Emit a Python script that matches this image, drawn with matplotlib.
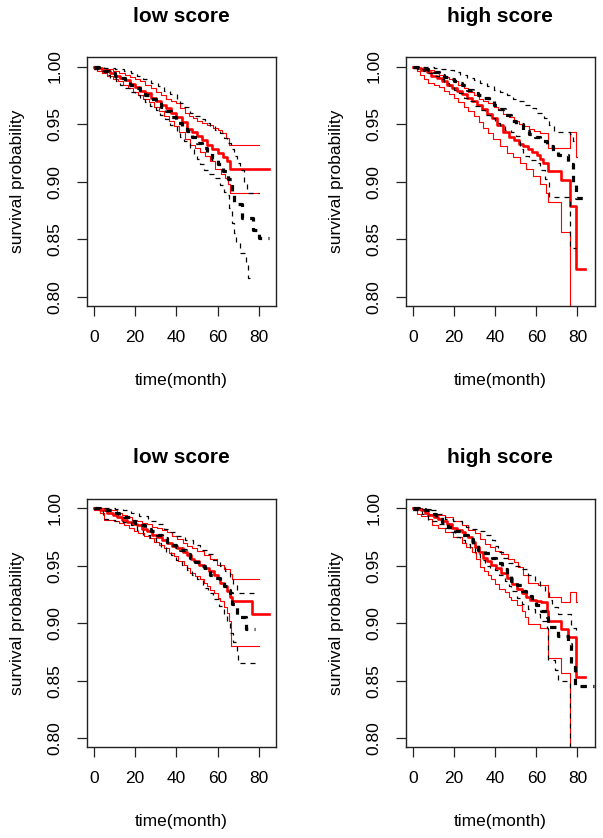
import matplotlib
matplotlib.use("Agg")
import matplotlib.pyplot as plt

plt.rcParams['font.family'] = ['Liberation Sans', 'DejaVu Sans']

titles = ["low score", "high score", "low score", "high score"]
xticks = [0, 20, 40, 60, 80]
yticks = [0.80, 0.85, 0.90, 0.95, 1.00]
ytick_labels = ["0.80", "0.85", "0.90", "0.95", "1.00"]
xlabel = "time(month)"
ylabel = "survival probability"

# ---- Panel A (top-left, low score) ----
A_red_t = [0, 2, 4, 6, 8, 10, 12.5, 15, 17.5, 20, 22.5, 25, 27.5, 30, 32.5, 35, 37.5, 40, 42.5, 45, 47.5, 50, 52.5, 55, 57.5, 60, 62.5, 64.5, 66.2, 85]
A_red_s = [1.0, 0.999, 0.997, 0.996, 0.994, 0.992, 0.990, 0.988, 0.985, 0.982, 0.979, 0.977, 0.973, 0.970, 0.967, 0.964, 0.960, 0.956, 0.952, 0.946, 0.943, 0.940, 0.936, 0.932, 0.928, 0.925, 0.921, 0.918, 0.911, 0.911]
A_up_t = [0, 3, 6, 9, 12, 15, 17.5, 20, 22.5, 25, 27.5, 30, 32.5, 35, 37.5, 40, 42, 44, 46, 48, 50, 52.5, 55, 58, 60, 62, 64, 65.5, 80]
A_up_s = [1.0, 0.999, 0.998, 0.996, 0.994, 0.993, 0.991, 0.989, 0.987, 0.984, 0.981, 0.978, 0.975, 0.972, 0.970, 0.968, 0.964, 0.960, 0.957, 0.955, 0.953, 0.951, 0.949, 0.947, 0.945, 0.942, 0.938, 0.932, 0.932]
A_lo_t = [0, 1.5, 4, 6.5, 9, 11.5, 14, 16.5, 19, 21.5, 24, 26.5, 29, 31.5, 34, 36.5, 39, 41.5, 44, 46.5, 49, 51.5, 54, 56.5, 59, 61.5, 63.5, 65, 66.2, 80]
A_lo_s = [0.998, 0.996, 0.994, 0.992, 0.989, 0.987, 0.984, 0.981, 0.978, 0.975, 0.972, 0.969, 0.965, 0.961, 0.957, 0.953, 0.948, 0.943, 0.937, 0.932, 0.929, 0.926, 0.922, 0.918, 0.911, 0.907, 0.903, 0.898, 0.890, 0.890]
A_blk_t = [0, 2.5, 5, 7.5, 10, 12.5, 15, 17.5, 20, 22.5, 25, 27.5, 30, 32.5, 35, 37.5, 40, 42.5, 45, 47.5, 50, 52.5, 55, 57.5, 60, 62.5, 65, 67, 68, 72, 77, 80, 85]
A_blk_s = [1.0, 0.998, 0.996, 0.994, 0.992, 0.990, 0.987, 0.984, 0.981, 0.978, 0.975, 0.972, 0.969, 0.965, 0.961, 0.956, 0.951, 0.948, 0.944, 0.939, 0.934, 0.929, 0.925, 0.920, 0.915, 0.909, 0.902, 0.891, 0.881, 0.868, 0.858, 0.851, 0.851]
A_bup_t = [0, 5, 10, 14.5, 18, 21, 24, 27.5, 31, 34, 37, 40.3, 42, 43.6, 46.8, 49, 51.7, 54, 56.5, 59, 61.4, 63, 64.6, 66.5, 67.9, 69.5, 71.1, 72.7, 74.3, 80]
A_bup_s = [1.0, 0.999, 0.998, 0.996, 0.994, 0.992, 0.989, 0.986, 0.983, 0.979, 0.976, 0.972, 0.968, 0.965, 0.960, 0.957, 0.954, 0.951, 0.948, 0.945, 0.942, 0.938, 0.934, 0.928, 0.922, 0.916, 0.910, 0.900, 0.890, 0.890]
A_blo_t = [0, 3.1, 5.5, 7.9, 10.5, 12.8, 15, 17.7, 20, 22.5, 25, 27.4, 30, 32.2, 34.5, 37.1, 40.3, 42, 43.6, 46.8, 48.5, 50, 51.5, 53.3, 56, 58.1, 61.4, 63, 64, 65.5, 67, 68, 69, 71, 74, 75, 78]
A_blo_s = [0.998, 0.996, 0.993, 0.990, 0.987, 0.984, 0.981, 0.978, 0.975, 0.972, 0.969, 0.966, 0.962, 0.958, 0.954, 0.949, 0.943, 0.939, 0.935, 0.929, 0.924, 0.920, 0.915, 0.910, 0.907, 0.903, 0.897, 0.891, 0.888, 0.877, 0.864, 0.855, 0.847, 0.838, 0.830, 0.816, 0.816]

# ---- Panel B (top-right, high score) ----
B_red_t = [0, 2, 4, 6.8, 9, 11.7, 14, 16.5, 19, 21.4, 24, 26.2, 28.5, 31, 33.5, 36, 38.5, 41, 43.9, 46.5, 49, 51.5, 53.6, 56, 58, 60.1, 61.7, 63.3, 65.8, 72.2, 76.3, 79.5, 83.6]
B_red_s = [1.0, 0.999, 0.997, 0.995, 0.992, 0.990, 0.987, 0.984, 0.981, 0.979, 0.976, 0.973, 0.970, 0.967, 0.963, 0.959, 0.955, 0.949, 0.943, 0.939, 0.936, 0.933, 0.931, 0.928, 0.926, 0.923, 0.920, 0.916, 0.909, 0.901, 0.879, 0.824, 0.824]
B_up_t = [0, 3, 5.2, 7.5, 10, 12.5, 14.9, 17.5, 19.8, 22, 24.6, 27, 29.5, 32, 34.3, 36.5, 39.2, 41.5, 44, 46.5, 49, 51.5, 54, 56.5, 59, 62, 65.7, 76.3, 79.5, 80]
B_up_s = [1.0, 0.999, 0.998, 0.997, 0.995, 0.993, 0.991, 0.989, 0.987, 0.984, 0.981, 0.978, 0.975, 0.972, 0.970, 0.968, 0.965, 0.962, 0.959, 0.956, 0.953, 0.950, 0.948, 0.946, 0.944, 0.942, 0.929, 0.943, 0.921, 0.921]
B_lo_t = [0, 1.9, 3.6, 5.2, 7.5, 10, 12.5, 14.9, 17.5, 19.8, 22, 24.6, 27, 29.5, 32, 34.3, 36.5, 39, 42.3, 45.5, 48.7, 52, 55.2, 58.4, 61.7, 64.9, 65.7, 72.2, 76.3, 80]
B_lo_s = [0.999, 0.996, 0.993, 0.989, 0.986, 0.984, 0.982, 0.979, 0.976, 0.973, 0.969, 0.965, 0.961, 0.957, 0.952, 0.947, 0.942, 0.937, 0.931, 0.925, 0.921, 0.916, 0.911, 0.905, 0.898, 0.890, 0.882, 0.856, 0.70, 0.70]
B_blk_t = [0, 2.5, 5, 7.5, 10, 12.5, 15, 17.5, 20, 22, 24, 26.5, 29, 31.5, 34, 37, 39.5, 42, 45, 47.5, 50, 53.6, 56.5, 59.3, 62, 65, 68, 70.6, 75.5, 77.9, 79.5, 83.6]
B_blk_s = [1.0, 0.999, 0.998, 0.997, 0.995, 0.993, 0.991, 0.989, 0.987, 0.986, 0.984, 0.980, 0.977, 0.975, 0.973, 0.971, 0.967, 0.963, 0.958, 0.953, 0.950, 0.944, 0.941, 0.939, 0.935, 0.931, 0.927, 0.923, 0.915, 0.899, 0.886, 0.886]
B_bup_t = [0, 5, 10, 13.3, 16.5, 19.8, 23, 26.2, 29.5, 32.7, 36, 39.2, 42.5, 45.7, 48.5, 51.5, 54.5, 57, 60, 63.5, 66, 68.4, 76.3, 78, 80]
B_bup_s = [1.0, 1.0, 0.999, 0.998, 0.997, 0.995, 0.993, 0.990, 0.988, 0.986, 0.983, 0.980, 0.978, 0.975, 0.972, 0.970, 0.967, 0.964, 0.960, 0.955, 0.949, 0.943, 0.941, 0.935, 0.935]
B_blo_t = [0, 2.5, 5, 7.5, 10, 12.5, 15, 17.5, 20, 22.5, 25, 27.5, 30, 32.5, 35, 37.5, 40, 42.5, 45, 47.5, 50, 52, 53.6, 56.5, 60.1, 62, 64.2, 66, 76.3, 79.5]
B_blo_s = [0.999, 0.998, 0.996, 0.994, 0.992, 0.989, 0.986, 0.983, 0.980, 0.977, 0.973, 0.970, 0.966, 0.962, 0.958, 0.955, 0.951, 0.948, 0.945, 0.943, 0.940, 0.928, 0.922, 0.919, 0.916, 0.910, 0.902, 0.887, 0.842, 0.842]

# ---- Panel C (bottom-left, low score) ----
C_red_t = [0, 3, 6.3, 9, 11.2, 13.5, 16, 18.5, 20.9, 23.5, 25.8, 28, 30.6, 33, 35.5, 38, 40.3, 43, 45.2, 47, 48.4, 51, 53.3, 56, 58.1, 60, 61.4, 63, 64.6, 66.2, 67, 76.8, 84.9]
C_red_s = [1.0, 0.998, 0.996, 0.994, 0.992, 0.990, 0.988, 0.986, 0.985, 0.982, 0.980, 0.977, 0.975, 0.972, 0.970, 0.967, 0.965, 0.962, 0.959, 0.956, 0.954, 0.951, 0.948, 0.945, 0.942, 0.939, 0.935, 0.932, 0.928, 0.923, 0.919, 0.908, 0.908]
C_up_t = [0, 5, 8, 11.2, 13.5, 16, 18.5, 20.9, 23.5, 25.8, 28, 30.6, 33, 35.5, 38, 40.3, 43, 45.2, 47.5, 50, 53.3, 56.5, 59.8, 63, 66.2, 67, 80]
C_up_s = [1.0, 0.999, 0.998, 0.996, 0.994, 0.992, 0.990, 0.989, 0.987, 0.986, 0.984, 0.983, 0.981, 0.979, 0.976, 0.973, 0.970, 0.967, 0.965, 0.963, 0.959, 0.956, 0.951, 0.947, 0.943, 0.938, 0.938]
C_lo_t = [0, 3.1, 4.7, 9.6, 12, 14.4, 17, 19.3, 21.5, 24.1, 26.5, 29, 31.5, 33.9, 36.5, 38.7, 41, 43.6, 45, 46.8, 49, 51.7, 53.5, 54.9, 56.5, 58.1, 60, 61.4, 63, 64.6, 65.5, 66.5, 80]
C_lo_s = [0.998, 0.996, 0.990, 0.989, 0.987, 0.985, 0.983, 0.980, 0.978, 0.976, 0.974, 0.971, 0.968, 0.965, 0.961, 0.958, 0.954, 0.951, 0.948, 0.944, 0.941, 0.938, 0.935, 0.932, 0.929, 0.926, 0.922, 0.919, 0.914, 0.909, 0.902, 0.880, 0.880]
C_blk_t = [0, 3, 6, 9.4, 12, 14.5, 17.5, 20, 22.5, 25, 27.5, 30.5, 33, 35.5, 38, 40, 42, 44.5, 46.8, 49, 51.7, 54, 56.5, 59, 61.4, 63, 64.5, 66.2, 67, 69.3, 74, 78.2]
C_blk_s = [1.0, 0.999, 0.998, 0.996, 0.994, 0.992, 0.989, 0.987, 0.985, 0.982, 0.980, 0.977, 0.974, 0.971, 0.968, 0.966, 0.964, 0.960, 0.957, 0.953, 0.950, 0.946, 0.942, 0.939, 0.936, 0.932, 0.929, 0.926, 0.917, 0.905, 0.895, 0.895]
C_bup_t = [0, 5, 10, 14, 18, 22, 26, 30, 34, 37, 40, 44, 48, 51.5, 55, 58, 61, 63.5, 66, 67.7, 69.3, 80]
C_bup_s = [1.0, 1.0, 0.999, 0.998, 0.996, 0.993, 0.989, 0.986, 0.982, 0.979, 0.976, 0.972, 0.968, 0.964, 0.960, 0.955, 0.950, 0.945, 0.940, 0.933, 0.926, 0.926]
C_blo_t = [0, 4.5, 7, 10, 14, 18, 21, 24, 27, 30, 32.5, 35, 37.5, 40, 42.5, 45, 47.5, 50, 53, 55.5, 58, 60.5, 63, 64.5, 66, 67.7, 69.3, 70, 79]
C_blo_s = [0.999, 0.991, 0.990, 0.989, 0.988, 0.985, 0.981, 0.977, 0.974, 0.970, 0.966, 0.962, 0.959, 0.955, 0.951, 0.946, 0.942, 0.938, 0.931, 0.926, 0.921, 0.915, 0.908, 0.900, 0.891, 0.884, 0.876, 0.865, 0.865]

# ---- Panel D (bottom-right, high score) ----
D_red_t = [0, 2, 4, 6, 7.5, 10, 12, 14, 16.5, 19, 21.5, 24, 25.5, 27, 28.5, 30, 32, 34, 36, 38, 40.5, 43, 45.5, 48, 50.5, 53, 55, 57, 60, 62.5, 65, 65.8, 72.2, 75.5, 79.5, 83.6]
D_red_s = [1.0, 0.999, 0.998, 0.996, 0.994, 0.992, 0.991, 0.989, 0.986, 0.983, 0.981, 0.979, 0.977, 0.975, 0.971, 0.966, 0.962, 0.957, 0.954, 0.951, 0.948, 0.944, 0.939, 0.934, 0.930, 0.926, 0.923, 0.920, 0.919, 0.918, 0.911, 0.902, 0.895, 0.888, 0.853, 0.853]
D_up_t = [0, 4.2, 7.5, 11.5, 15.5, 19.5, 23.6, 27, 30.1, 32.5, 35, 37.5, 39.8, 43, 46.3, 49, 51.2, 53.5, 56, 61, 65.8, 72.2, 76.3, 79.5, 80]
D_up_s = [1.0, 0.999, 0.995, 0.994, 0.992, 0.989, 0.985, 0.981, 0.978, 0.973, 0.969, 0.966, 0.963, 0.960, 0.956, 0.953, 0.949, 0.942, 0.935, 0.933, 0.923, 0.918, 0.927, 0.918, 0.918]
D_lo_t = [0, 2, 4, 7.5, 9.1, 12, 15.5, 19.5, 23.6, 26, 28.5, 30.5, 32.6, 34.5, 36.6, 38, 39.8, 42, 44.7, 46.5, 47.9, 50.5, 52.8, 54.5, 56, 62, 65.8, 72.2, 76.3, 80]
D_lo_s = [0.998, 0.995, 0.993, 0.991, 0.985, 0.983, 0.979, 0.975, 0.970, 0.966, 0.962, 0.956, 0.949, 0.945, 0.942, 0.938, 0.934, 0.930, 0.927, 0.923, 0.920, 0.916, 0.911, 0.905, 0.899, 0.896, 0.870, 0.857, 0.70, 0.70]
D_blk_t = [0, 3, 5.8, 8.5, 11, 13.9, 17, 20.4, 23.5, 26.9, 29, 31.7, 35, 38.2, 40.5, 43.1, 45.5, 47.9, 50.5, 52.8, 55, 57.7, 60, 62.5, 65, 65.8, 70.6, 75.5, 77.1, 78.7, 88]
D_blk_s = [1.0, 0.999, 0.998, 0.995, 0.992, 0.988, 0.984, 0.980, 0.977, 0.973, 0.969, 0.964, 0.961, 0.957, 0.952, 0.947, 0.942, 0.937, 0.933, 0.928, 0.924, 0.920, 0.916, 0.911, 0.905, 0.897, 0.889, 0.882, 0.862, 0.845, 0.845]
D_bup_t = [0, 4, 7.5, 11.5, 15.5, 19.5, 23.6, 26, 28.5, 32, 35, 38.2, 40, 41.5, 44, 46.3, 49.5, 52.8, 56, 59.3, 62, 64.1, 66, 67.4, 70.6, 77.1, 79.5, 80]
D_bup_s = [1.0, 0.999, 0.998, 0.995, 0.991, 0.989, 0.986, 0.984, 0.982, 0.980, 0.977, 0.972, 0.967, 0.962, 0.957, 0.952, 0.950, 0.947, 0.942, 0.937, 0.932, 0.927, 0.920, 0.914, 0.908, 0.896, 0.893, 0.893]
D_blo_t = [0, 4.2, 7.5, 11.5, 15.5, 18, 20.4, 23, 25.3, 27.5, 30.1, 32.5, 35, 37.5, 39.8, 42, 44.7, 46.5, 47.9, 50.5, 52.8, 56, 59.3, 62, 65, 65.8, 69, 70.6, 76.3, 80]
D_blo_s = [0.998, 0.995, 0.989, 0.986, 0.983, 0.979, 0.975, 0.972, 0.969, 0.965, 0.960, 0.955, 0.950, 0.948, 0.946, 0.942, 0.937, 0.932, 0.928, 0.922, 0.917, 0.912, 0.908, 0.902, 0.896, 0.868, 0.859, 0.850, 0.70, 0.70]

panels = [
    (A_red_t, A_red_s, A_up_t, A_up_s, A_lo_t, A_lo_s, A_blk_t, A_blk_s, A_bup_t, A_bup_s, A_blo_t, A_blo_s),
    (B_red_t, B_red_s, B_up_t, B_up_s, B_lo_t, B_lo_s, B_blk_t, B_blk_s, B_bup_t, B_bup_s, B_blo_t, B_blo_s),
    (C_red_t, C_red_s, C_up_t, C_up_s, C_lo_t, C_lo_s, C_blk_t, C_blk_s, C_bup_t, C_bup_s, C_blo_t, C_blo_s),
    (D_red_t, D_red_s, D_up_t, D_up_s, D_lo_t, D_lo_s, D_blk_t, D_blk_s, D_bup_t, D_bup_s, D_blo_t, D_blo_s),
]

W, H = 603, 838
fig = plt.figure(figsize=(W / 100, H / 100), dpi=100)

# axes boxes in pixels: (left, top, right, bottom)
boxes = [(87, 57.3, 276, 306), (406, 57.3, 594.7, 306),
         (87, 499, 276, 747.3), (406, 499, 594.7, 747.3)]

FS = 12.5
for i, (box, d) in enumerate(zip(boxes, panels)):
    l, t, r, b = box
    ax = fig.add_axes([l / W, 1 - b / H, (r - l) / W, (b - t) / H])
    rt, rs, ut, us, lt, ls, bt, bs, but, bus, blt, bls = d
    # red solid (score group)
    ax.step(rt, rs, where='post', color='#ff0000', lw=1.9)
    ax.step(ut, us, where='post', color='#ff0000', lw=0.8)
    ax.step(lt, ls, where='post', color='#ff0000', lw=0.8)
    # black dashed (reference group)
    ax.step(bt, bs, where='post', color='black', lw=2.3, dashes=(2.0, 2.0))
    ax.step(but, bus, where='post', color='black', lw=0.9, dashes=(4, 4))
    ax.step(blt, bls, where='post', color='black', lw=0.9, dashes=(4, 4))

    ax.set_xlim(-3.4, 88.4)
    ax.set_ylim(0.792, 1.008)
    ax.set_xticks(xticks)
    ax.set_xticklabels([str(v) for v in xticks], fontsize=FS, va='center')
    ax.set_yticks(yticks)
    ax.set_yticklabels(ytick_labels, fontsize=FS, rotation=90, va='center', ha='center')
    ax.tick_params(axis='both', direction='out', length=7.2, width=0.9, color='#222222')
    ax.tick_params(axis='x', pad=15.5)
    ax.tick_params(axis='y', pad=15.8)
    for sp in ax.spines.values():
        sp.set_linewidth(1.0)
        sp.set_color('#222222')

    ax.set_xlabel(xlabel, fontsize=FS, va='center')
    ax.xaxis.set_label_coords(0.5, -74 / (b - t))
    ax.set_ylabel(ylabel, fontsize=FS, va='center')
    ax.yaxis.set_label_coords(-69 / (r - l), 0.5)
    ax.text(0.5, 1 + 41 / (b - t), titles[i], transform=ax.transAxes,
            ha='center', va='center', fontsize=15, fontweight='bold')

fig.savefig("out.png", dpi=100)
